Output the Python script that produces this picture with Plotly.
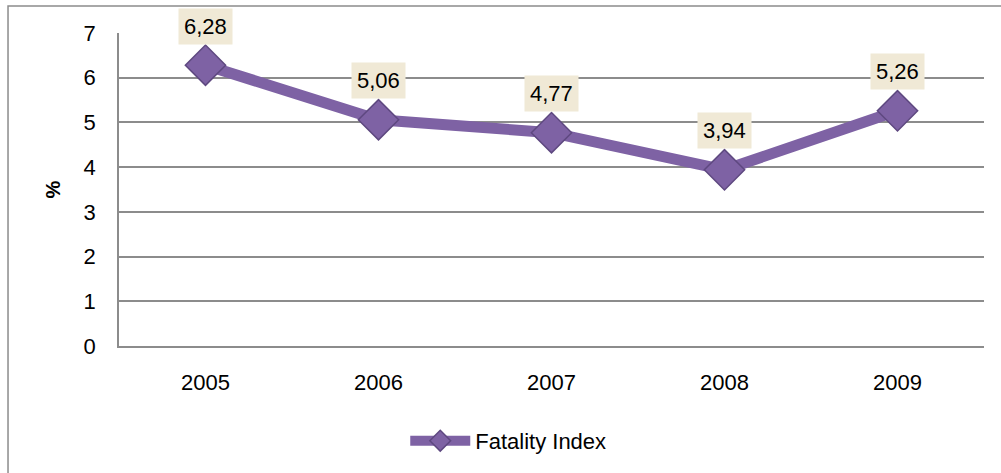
import plotly.graph_objects as go

years = ["2005", "2006", "2007", "2008", "2009"]
fatality_index = [6.28, 5.06, 4.77, 3.94, 5.26]
labels = ["6,28", "5,06", "4,77", "3,94", "5,26"]
series_name = "Fatality Index"

purple = "#7E62A4"
font_family = "Liberation Sans, Arial, sans-serif"

fig = go.Figure()
fig.add_trace(go.Scatter(
    x=years, y=fatality_index, mode="lines+markers", name=series_name,
    line=dict(color=purple, width=11),
    marker=dict(symbol="diamond", size=31, color=purple,
                line=dict(color="#5E4880", width=1.5)),
))

for i, (yv, t) in enumerate(zip(fatality_index, labels)):
    fig.add_annotation(
        x=i, y=yv, text=t, showarrow=False, yshift=39,
        bgcolor="#F0E9D6", borderpad=5,
        font=dict(family=font_family, size=22, color="#000000"),
    )

# outer chart border
fig.add_shape(type="rect", xref="paper", yref="paper",
              x0=-0.1283, x1=1.2, y0=-0.6, y1=1.086,
              line=dict(color="#8C8C8C", width=1.5), fillcolor="rgba(0,0,0,0)",
              layer="below")

fig.update_layout(
    width=1001, height=473,
    margin=dict(l=119, r=17, t=33, b=126),
    paper_bgcolor="white", plot_bgcolor="white",
    font=dict(family=font_family, size=22, color="#000000"),
    showlegend=True,
    legend=dict(orientation="h", x=0.45, xanchor="center", y=-0.299, yanchor="middle",
                font=dict(size=22), itemwidth=60),
    xaxis=dict(type="category", range=[-0.5, len(years) - 0.5],
               showgrid=False, showline=True, linecolor="#8C8C8C",
               linewidth=1.5, ticks="", ticklabelstandoff=16,
               tickfont=dict(size=22)),
    yaxis=dict(range=[0, 7], dtick=1, showgrid=True, gridcolor="#8C8C8C", gridwidth=1.5,
               showline=True, linecolor="#8C8C8C", linewidth=1.5, ticks="",
               ticklabelstandoff=17, zeroline=False,
               title=dict(text="<b>%</b>", font=dict(size=20), standoff=18),
               tickfont=dict(size=22)),
)

fig.write_html("out.html")
